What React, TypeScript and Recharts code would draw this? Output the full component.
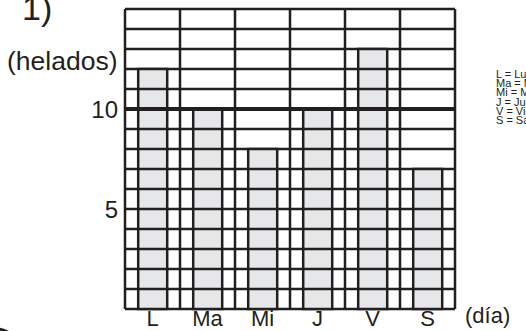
import { Bar, BarChart, CartesianGrid, ReferenceLine, XAxis, YAxis } from "recharts";

const days = ["L", "Ma", "Mi", "J", "V", "S"];
const helados = [12, 10, 8, 10, 13, 7];
const yTicks = [0, 1, 2, 3, 4, 5, 6, 7, 8, 9, 10, 11, 12, 13, 14, 15];
const yLabels = [5, 10];
const legendLines = ["L = Lunes", "Ma = Martes", "Mi = Miércoles", "J = Jueves", "V = Viernes", "S = Sábado"];

const data = days.map((day, i) => ({ day, helados: helados[i] }));

const INK = "#231f20";
const FONT = "'Liberation Sans', Arial, sans-serif";

// bar drawn as stacked cells, one per unit, so grid lines cross it
function CellBar(props: any) {
  const { x, y, width, height, value } = props;
  const v = Array.isArray(value) ? value[1] - value[0] : value;
  const step = height / v;
  const lines = [];
  for (let i = 1; i < v; i++) {
    lines.push(
      <line key={i} x1={x} x2={x + width} y1={y + i * step} y2={y + i * step} stroke={INK} strokeWidth={2.5} />
    );
  }
  return (
    <g>
      <rect x={x} y={y} width={width} height={height} fill="#e6e7e8" stroke={INK} strokeWidth={2.5} />
      {lines}
    </g>
  );
}

export default function App() {
  return (
    <div style={{ position: "absolute", left: 0, top: 0, width: 526, height: 331, overflow: "hidden", background: "#fff", fontFamily: FONT, color: INK }}>
      <div style={{ position: "absolute", left: 130, top: -19, width: 330, textAlign: "center", fontSize: 22, lineHeight: "22px", whiteSpace: "nowrap", color: "#777" }}>
        Gráfica de helados vendidos en la semana
      </div>
      <div style={{ position: "absolute", left: 22, top: -9, fontSize: 34, lineHeight: "34px" }}>1)</div>
      <div style={{ position: "absolute", left: 7, top: 46, fontSize: 26.5, lineHeight: "30px" }}>(helados)</div>
      <div style={{ position: "absolute", left: 465, top: 303, fontSize: 22, lineHeight: "26px" }}>(día)</div>
      <div style={{ position: "absolute", left: 496, top: 70, fontSize: 11, lineHeight: "9.2px", whiteSpace: "nowrap" }}>
        {legendLines.map((t) => (
          <div key={t}>{t}</div>
        ))}
      </div>
      <div style={{ position: "absolute", left: -40, top: 327, width: 60, height: 60, borderRadius: "50%", border: `3px solid ${INK}` }} />
      <div style={{ position: "absolute", left: 0, top: 0 }}>
        <BarChart
          width={526}
          height={331}
          data={data}
          margin={{ top: 9, right: 71, left: 65, bottom: 0 }}
          barCategoryGap="24%"
        >
          <CartesianGrid
            stroke={INK}
            strokeWidth={2.5}
            fill="none"
            verticalCoordinatesGenerator={({ offset }: any) =>
              days.map((_, i) => offset.left + (i * offset.width) / days.length).concat(offset.left + offset.width)
            }
          />
          <XAxis
            dataKey="day"
            interval={0}
            tickLine={false}
            axisLine={false}
            tickSize={0}
            tickMargin={1}
            height={22}
            tick={{ fill: INK, fontSize: 22, fontFamily: FONT }}
          />
          <YAxis
            width={60}
            domain={[0, 15]}
            ticks={yTicks}
            interval={0}
            tickLine={false}
            axisLine={false}
            tickSize={0}
            tickMargin={7}
            tickFormatter={(v: number) => (yLabels.includes(v) ? String(v) : "")}
            tick={{ fill: INK, fontSize: 24, fontFamily: FONT }}
          />
          <Bar dataKey="helados" shape={CellBar} isAnimationActive={false} />
          <ReferenceLine y={10} stroke={INK} strokeWidth={4} />
        </BarChart>
      </div>
    </div>
  );
}
